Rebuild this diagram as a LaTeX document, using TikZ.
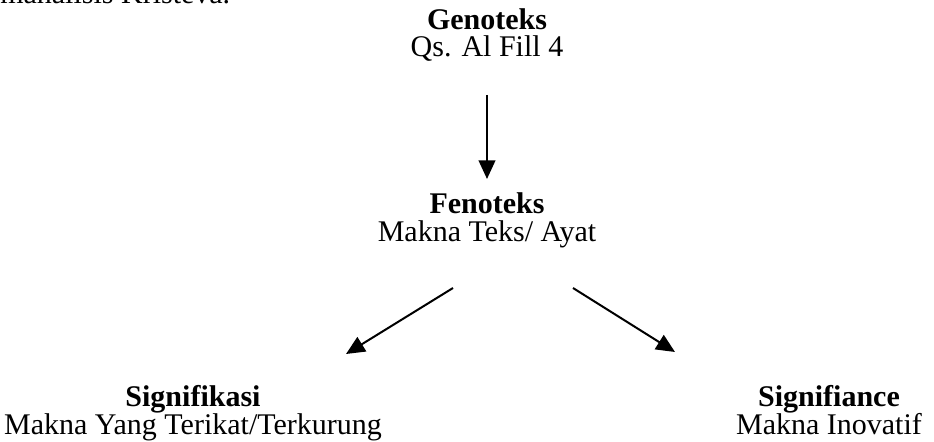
\documentclass[tikz,border=0pt]{standalone}
\usepackage{fontspec}
\setmainfont{Liberation Serif}
\usetikzlibrary{arrows.meta}
\begin{document}
\begin{tikzpicture}[x=0.75pt,y=-0.75pt,
  lbl/.style={inner sep=0pt,anchor=base,font=\fontsize{22.5}{26}\selectfont},
  ttl/.style={lbl,font=\fontsize{22.5}{26}\selectfont\bfseries},
  arr/.style={line width=1.5pt,-{Triangle[length=14pt,width=12.5pt]}}]
\useasboundingbox (0,0) rectangle (934,442);
\node[lbl,anchor=base west] (top) at (0,4) {manalisis Kristeva.};
\node[ttl] (gen) at (487,30) {Genoteks};
\node[lbl] (genq) at (487,57) {Qs. Al Fill 4};
\node[ttl] (fen) at (487,213) {Fenoteks};
\node[lbl] (fenm) at (487,241) {Makna Teks/ Ayat};
\node[ttl] (sig) at (193,406) {Signifikasi};
\node[lbl] (sigm) at (193,434) {Makna Yang Terikat/Terkurung};
\node[ttl] (sgf) at (829,406) {Signifiance};
\node[lbl] (sgfm) at (829,434) {Makna Inovatif};
\coordinate (a1) at (487,95);
\coordinate (a2) at (487,179);
\coordinate (b1) at (453,288);
\coordinate (b2) at (346,354);
\coordinate (c1) at (573,288);
\coordinate (c2) at (675,352);
\draw[arr] (a1) -- (a2);
\draw[arr] (b1) -- (b2);
\draw[arr] (c1) -- (c2);
\end{tikzpicture}
\end{document}
